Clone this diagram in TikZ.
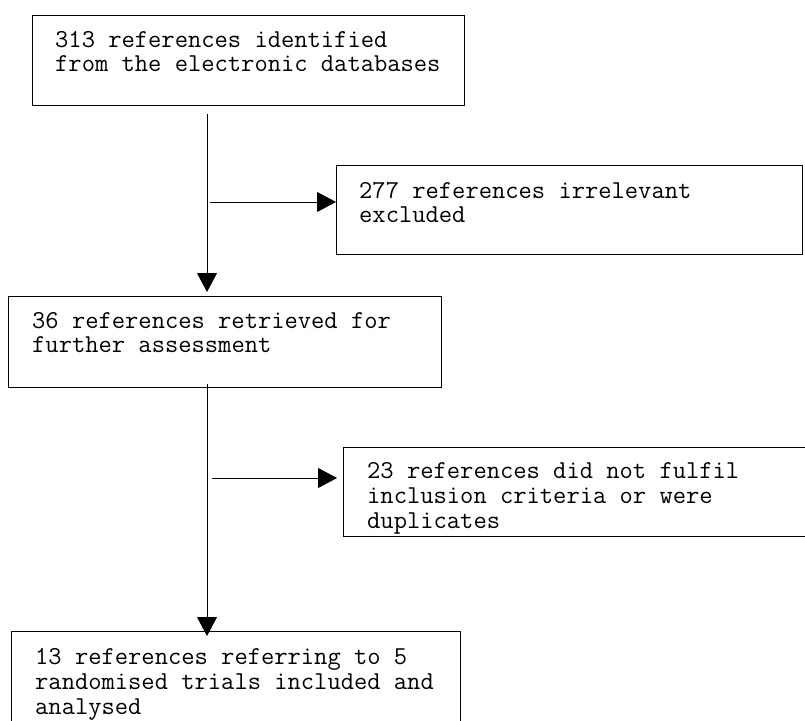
\documentclass[tikz,border=0pt]{standalone}
\usepackage{fontspec}
\usetikzlibrary{arrows.meta}
\newcommand\monospacing{\spaceskip=\fontcharwd\font`x\relax\xspaceskip=\spaceskip}
\tikzset{
  box/.style={draw=black, line width=1bp, rectangle, anchor=north west, inner sep=0pt},
  txt/.style={anchor=base west, inner sep=0pt, text width=470bp, align=left,
    font=\ttfamily\fontsize{25.8bp}{24bp}\selectfont,
    execute at begin node={\monospacing}},
  txtwide/.style={txt, font=\ttfamily\fontsize{25.8bp}{25bp}\selectfont},
  arr/.style={draw=black, line width=1bp, -{Triangle[length=19bp,width=20bp]}}
}
\begin{document}
\begin{tikzpicture}[x=1bp,y=-1bp]
\useasboundingbox (0,0) rectangle (805,721);
\clip (0,0) rectangle (805,721);
\fill[white] (0,0) rectangle (805,721);
% boxes
\node[box, minimum width=432bp, minimum height=90bp] (b1) at (32,15) {};
\node[box, minimum width=466bp, minimum height=89bp] (b2) at (336,165) {};
\node[box, minimum width=433bp, minimum height=91bp] (b3) at (8,296) {};
\node[box, minimum width=480bp, minimum height=89bp] (b5) at (343,447) {};
\node[box, minimum width=449bp, minimum height=120bp] (b4) at (11,631) {};
% texts
\node[txt] (t1) at (55,48) {313 references identified\\from the electronic databases};
\node[txt] (t2) at (359,198) {277 references irrelevant\\excluded};
\node[txt] (t3) at (32,328) {36 references retrieved for\\further assessment};
\begin{scope}
\clip (b5.north west) rectangle (b5.south east);
\node[txtwide] (t5) at (367,478) {23 references did not fulfil\\inclusion criteria or were\\duplicates};
\end{scope}
\node[txtwide] (t4) at (35,664) {13 references referring to 5\\randomised trials included and\\analysed};
% connectors
\coordinate (c1) at (207,0);
\coordinate (h1) at (207,202);
\coordinate (h2) at (207,478);
\draw[arr, shorten <=8bp, shorten >=4bp] (c1 |- b1.south) -- (c1 |- b3.north);
\draw[arr, shorten <=3bp] (h1) -- (h1 -| b2.west);
\draw[arr, shorten <=-4bp, shorten >=-5bp] (c1 |- b3.south) -- (c1 |- b4.north);
\draw[arr, shorten <=5bp, shorten >=6bp] (h2) -- (h2 -| b5.west);
\end{tikzpicture}
\end{document}
